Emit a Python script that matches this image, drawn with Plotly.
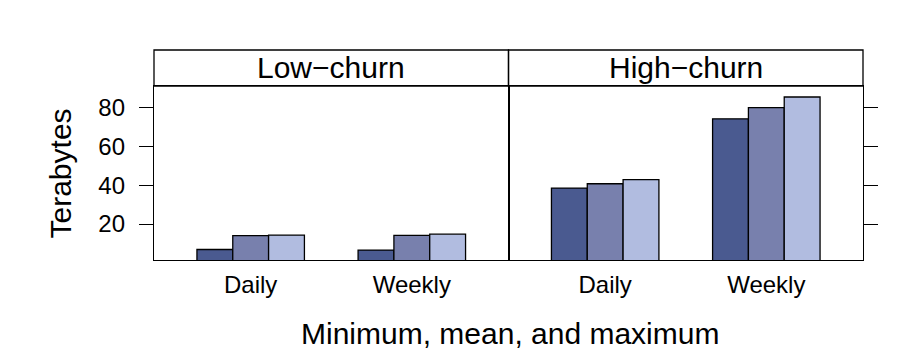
import plotly.graph_objects as go

categories = ["Daily", "Weekly"]
panels = ["Low\u2212churn", "High\u2212churn"]
stat_names = ["Minimum", "Mean", "Maximum"]
low_min = [6.9, 6.6]
low_mean = [14.0, 14.2]
low_max = [14.3, 14.8]
high_min = [38.5, 74.1]
high_mean = [40.7, 79.8]
high_max = [42.8, 85.3]
y_ticks = [20, 40, 60, 80]

colors = ["#4A5A90", "#7880AD", "#B1BCE0"]
FONT = "Liberation Sans, Arial, Helvetica, sans-serif"

fig = go.Figure()
panel_data = [(low_min, low_mean, low_max), (high_min, high_mean, high_max)]
for p, series in enumerate(panel_data):
    xa = "x" if p == 0 else "x2"
    ya = "y" if p == 0 else "y2"
    for s, vals in enumerate(series):
        fig.add_trace(go.Bar(
            x=categories, y=vals, name=stat_names[s],
            marker=dict(color=colors[s], line=dict(color="black", width=1.3)),
            xaxis=xa, yaxis=ya, showlegend=False, hoverinfo="x+y",
        ))

top = 174 / 210
line_w = 1.3
common_x = dict(range=[-0.6, 1.6], showline=True, linecolor="black", linewidth=line_w,
                mirror=True, ticks="", showgrid=False, zeroline=False,
                tickfont=dict(size=24, color="black", family=FONT), ticklabelstandoff=3)
common_y = dict(range=[1.5, 90.95], domain=[0, top], showline=True, linecolor="black",
                linewidth=line_w, mirror=True, ticks="outside", ticklen=14,
                tickwidth=line_w, tickcolor="black", tickvals=y_ticks,
                showgrid=False, zeroline=False,
                tickfont=dict(size=24, color="black", family=FONT))

# page body has an 8px margin, so the figure is offset by 8px
fig.update_layout(
    width=904, height=348,
    margin=dict(l=146, r=49, t=42, b=96),
    paper_bgcolor="white", plot_bgcolor="white",
    barmode="group", bargap=0.333, bargroupgap=0,
    font=dict(family=FONT, color="black"),
    xaxis=dict(domain=[0, 0.5], anchor="y", **common_x),
    xaxis2=dict(domain=[0.5, 1], anchor="y2", **common_x),
    yaxis=dict(anchor="x", side="left", ticklabelstandoff=9, **common_y),
    yaxis2=dict(anchor="x2", side="right", matches="y", showticklabels=False, **common_y),
)

for p, label in enumerate(panels):
    x0, x1 = (0, 0.5) if p == 0 else (0.5, 1)
    fig.add_shape(type="rect", xref="paper", yref="paper", x0=x0, x1=x1, y0=top, y1=1,
                  line=dict(color="black", width=line_w), fillcolor="rgba(0,0,0,0)")
    fig.add_annotation(text=label, xref="paper", yref="paper", x=(x0 + x1) / 2,
                       y=(top + 1) / 2, showarrow=False, xanchor="center", yanchor="middle",
                       font=dict(size=30, color="black", family=FONT))

fig.add_annotation(text="Minimum, mean, and maximum", xref="paper", yref="paper",
                   x=(510 - 154) / 709, y=-(333.5 - 260) / 210, showarrow=False,
                   xanchor="center", yanchor="middle",
                   font=dict(size=30, color="black", family=FONT))
fig.add_annotation(text="Terabytes", xref="paper", yref="paper", textangle=-90,
                   x=(60 - 154) / 709, y=(260 - 173.5) / 210, showarrow=False,
                   xanchor="center", yanchor="middle",
                   font=dict(size=30, color="black", family=FONT))

fig.write_html("out.html")
